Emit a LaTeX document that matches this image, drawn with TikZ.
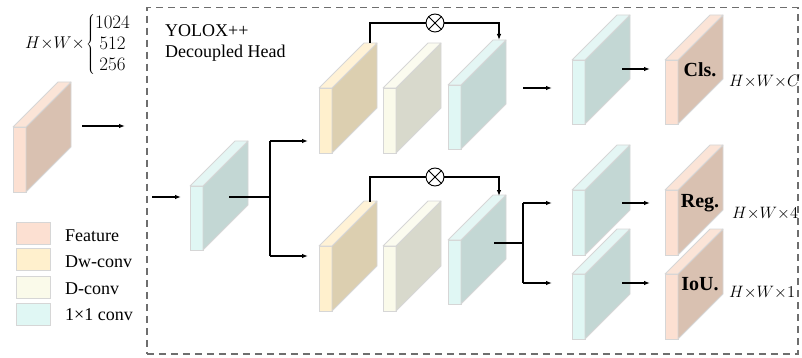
\RequirePackage{fix-cm}
\documentclass[tikz,border=0pt]{standalone}
\usepackage{fontspec}
\setmainfont{Liberation Serif}
\usetikzlibrary{arrows.meta}

% face colours of the slabs: F = front, S = side, T = top
\definecolor{featF}{HTML}{FCE0D2}
\definecolor{featS}{HTML}{D9C1B1}
\definecolor{featT}{HTML}{FBE4D7}
\definecolor{dwF}{HTML}{FFF0CD}
\definecolor{dwS}{HTML}{DCCFB0}
\definecolor{dwT}{HTML}{FFF2D6}
\definecolor{dcF}{HTML}{FAFAEA}
\definecolor{dcS}{HTML}{D8D9CC}
\definecolor{dcT}{HTML}{FBFBEF}
\definecolor{pwF}{HTML}{E0F7F4}
\definecolor{pwS}{HTML}{C3D7D4}
\definecolor{pwT}{HTML}{E4F6F4}
\definecolor{edgegray}{HTML}{D6D6D6}
\definecolor{framegray}{HTML}{6E6E6E}

% one slab: #1 name, #2 x, #3 y of front-face top, #4 height, #5 colour set
\newcommand\slab[5]{%
  \node[slabfront, fill=#5F, minimum height=#4pt, anchor=north west] (#1) at (#2,-#3) {};
  \filldraw[slabedge, fill=#5S] (#1.north east) -- ++(45,45) -- ++(0,-#4) -- (#1.south east) -- cycle;
  \filldraw[slabedge, fill=#5T] (#1.north west) -- ++(45,45) -- ++(13,0) -- (#1.north east) -- cycle;
}

\begin{document}
\begin{tikzpicture}[x=1pt, y=1pt,
  slabfront/.style={draw=edgegray, line width=0.8pt, minimum width=13pt, inner sep=0pt, outer sep=0pt},
  slabedge/.style={draw=edgegray, line width=0.8pt, line join=round},
  conn/.style={line width=1.1pt, black},
  arr/.style={conn, -{Latex[length=6pt, width=4.5pt]}},
  otimes/.style={draw, circle, line width=0.9pt, minimum size=18pt, inner sep=0pt},
  txt/.style={font=\fontsize{18}{21}\selectfont, inner sep=0pt},
  mth/.style={font=\fontsize{17}{21}\selectfont, inner sep=0pt},
  chans/.style={font=\fontsize{19}{21}\selectfont, inner sep=0pt},
  dimtxt/.style={font=\fontsize{16.5}{19}\selectfont, inner sep=0pt, anchor=west},
  tag/.style={font=\fontsize{20}{22}\selectfont\bfseries, inner sep=0pt},
  legbox/.style={draw=edgegray, line width=0.8pt, minimum width=34pt, minimum height=22pt, inner sep=0pt, anchor=north west}]

\useasboundingbox (0,0) rectangle (802,-358);

% dashed frame of the head
\node[draw=framegray, line width=1.5pt, dash pattern=on 7pt off 5pt, inner sep=0pt,
      minimum width=651pt, minimum height=346pt, anchor=north west] (frame) at (146,-7) {};

% input feature and its dimension note
\slab{feat}{13}{127}{65}{feat}
\node[mth, anchor=east] (dimL) at (85,-43) {$H{\times}W{\times}$};
\node[chans, anchor=west] (dimN) at (86,-45) {$\left\{\begin{array}{@{}c@{}}1024\\512\\256\end{array}\right.$};

% head title
\node[txt, anchor=base west] (title1) at (165,-37) {YOLOX++};
\node[txt, anchor=base west] (title2) at (165,-58) {Decoupled Head};

% stem
\slab{stem}{190}{186}{64}{pw}

% classification branch
\slab{dwA}{319}{88}{65}{dw}
\slab{dcA}{383}{88}{65}{dc}
\slab{pwA}{448}{85}{64}{pw}

% regression branch
\slab{dwB}{319}{246}{65}{dw}
\slab{dcB}{383}{246}{65}{dc}
\slab{pwB}{448}{240}{64}{pw}

% outputs
\slab{pwCls}{572}{60}{64}{pw}
\slab{cls}{665}{60}{64}{feat}
\slab{pwReg}{572}{190}{65}{pw}
\slab{reg}{665}{190}{65}{feat}
\slab{pwIou}{572}{274}{65}{pw}
\slab{iou}{665}{274}{65}{feat}

\node[tag] (clsLbl) at (700,-70) {Cls.};
\node[tag] (regLbl) at (700,-203) {Reg.};
\node[tag] (iouLbl) at (700,-284) {IoU.};
\node[dimtxt] (clsDim) at (729,-82) {$H{\times}W{\times}C$};
\node[dimtxt] (regDim) at (732,-214) {$H{\times}W{\times}4$};
\node[dimtxt] (iouDim) at (729,-293) {$H{\times}W{\times}1$};

% multiplication nodes
\node[otimes] (mulA) at (435,-23) {};
\draw[line width=0.9pt] (mulA.north east) -- (mulA.south west) (mulA.north west) -- (mulA.south east);
\node[otimes] (mulB) at (435,-177) {};
\draw[line width=0.9pt] (mulB.north east) -- (mulB.south west) (mulB.north west) -- (mulB.south east);

% connector end points
\coordinate (featOut) at (82,-126);
\coordinate (frameIn) at (125,-126);
\coordinate (stemInS) at (152,-197);
\coordinate (stemInE) at (181,-197);
\coordinate (stemOut) at (229,-197);
\coordinate (splitT) at (270,-141);
\coordinate (splitB) at (270,-256);
\coordinate (dwAin) at (308,-141);
\coordinate (dwBin) at (308,-256);
\coordinate (dwAtop) at (370,-43);
\coordinate (pwAtop) at (499,-40);
\coordinate (dwBtop) at (370,-202);
\coordinate (pwBtop) at (499,-196);
\coordinate (pwAout) at (523,-88);
\coordinate (pwAnext) at (552,-88);
\coordinate (pwBout) at (494,-243);
\coordinate (splitR) at (523,-243);
\coordinate (splitRT) at (523,-203);
\coordinate (splitRB) at (523,-283);
\coordinate (pwRegIn) at (552,-203);
\coordinate (pwIouIn) at (552,-283);
\coordinate (clsFrom) at (622,-69);
\coordinate (clsTo) at (650,-69);
\coordinate (regFrom) at (622,-203);
\coordinate (regTo) at (650,-203);
\coordinate (iouFrom) at (622,-283);
\coordinate (iouTo) at (650,-283);

% connectors
\draw[arr] (featOut) -- (frameIn);
\draw[arr] (stemInS) -- (stemInE);
\draw[conn] (stemOut) -- (splitB |- stemOut);
\draw[conn] (splitT) -- (splitB);
\draw[arr] (splitT) -- (dwAin);
\draw[arr] (splitB) -- (dwBin);
\draw[conn] (dwAtop) |- (mulA.west);
\draw[arr] (mulA.east) -| (pwAtop);
\draw[conn] (dwBtop) |- (mulB.west);
\draw[arr] (mulB.east) -| (pwBtop);
\draw[arr] (pwAout) -- (pwAnext);
\draw[conn] (pwBout) -- (splitR);
\draw[conn] (splitRT) -- (splitRB);
\draw[arr] (splitRT) -- (pwRegIn);
\draw[arr] (splitRB) -- (pwIouIn);
\draw[arr] (clsFrom) -- (clsTo);
\draw[arr] (regFrom) -- (regTo);
\draw[arr] (iouFrom) -- (iouTo);

% legend
\node[legbox, fill=featF] (legFeat) at (16,-222) {};
\node[legbox, fill=dwF] (legDw) at (16,-248) {};
\node[legbox, fill=dcF] (legDc) at (16,-276) {};
\node[legbox, fill=pwF] (legPw) at (16,-303) {};
\node[txt, anchor=base west] (legFeatT) at (65,-241) {Feature};
\node[txt, anchor=base west] (legDwT) at (65,-267) {Dw-conv};
\node[txt, anchor=base west] (legDcT) at (65,-294) {D-conv};
\node[txt, anchor=base west] (legPwT) at (65,-320) {1×1 conv};
\end{tikzpicture}
\end{document}
